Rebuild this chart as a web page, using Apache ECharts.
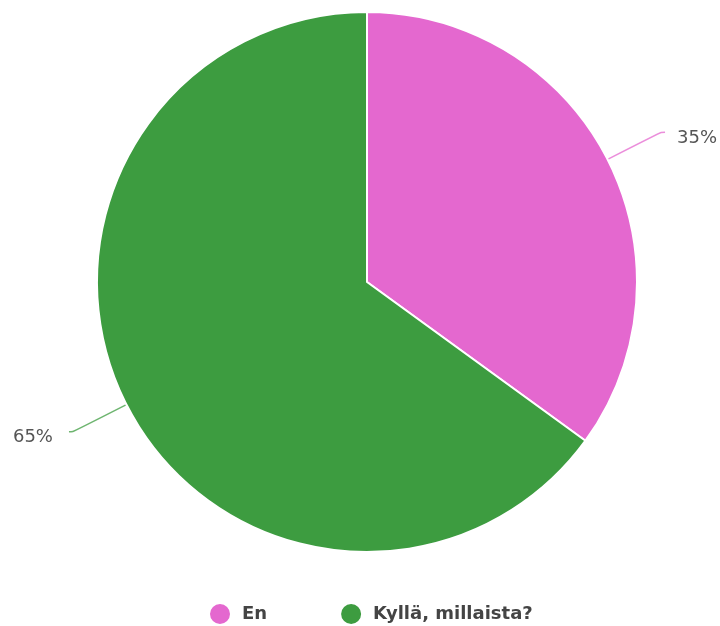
<!DOCTYPE html>
<html>
<head>
<meta charset="utf-8">
<script src="https://cdn.jsdelivr.net/npm/echarts@6/dist/echarts.min.js"></script>
<style>html,body{margin:0;padding:0;background:#fff;}#c{width:720px;height:626px;}</style>
</head>
<body>
<div id="c"></div>
<script>
const categories = ["En", "Kyllä, millaista?"];
const values = [35, 65];
const colors = ["#e468cf", "#3d9c40"];

const labelGaps = [12, 16];
const chart = echarts.init(document.getElementById('c'), null, {renderer: 'canvas'});
chart.setOption({
  animation: false,
  color: colors,
  legend: {
    top: 602,
    left: 208,
    padding: 0,
    icon: 'circle',
    itemWidth: 22,
    itemHeight: 22,
    itemGap: 72,
    textStyle: {fontFamily: '"DejaVu Sans", sans-serif', fontSize: 18, fontWeight: 'bold', color: '#444', padding: [0, 0, 0, 6]},
    data: categories
  },
  series: [{
    type: 'pie',
    center: [367, 282],
    radius: [0, 270],
    startAngle: 90,
    clockwise: true,
    itemStyle: {borderColor: '#fff', borderWidth: 2},
    label: {
      show: true,
      formatter: p => '{s|}\n{v|' + Math.round(p.percent) + '%}',
      overflow: 'none',
      distanceToLabelLine: 16,
      rich: {
        s: {height: 12, fontSize: 1},
        v: {fontFamily: '"DejaVu Sans", sans-serif', fontSize: 18, color: '#555', height: 22}
      }
    },
    labelLine: {show: true, length: 60, length2: 4, smooth: 0.4, lineStyle: {width: 1.5, opacity: 0.75}},
    emphasis: {disabled: true},
    data: categories.map((c, i) => ({name: c, value: values[i], label: {distanceToLabelLine: labelGaps[i]}}))
  }]
});
</script>
</body>
</html>
